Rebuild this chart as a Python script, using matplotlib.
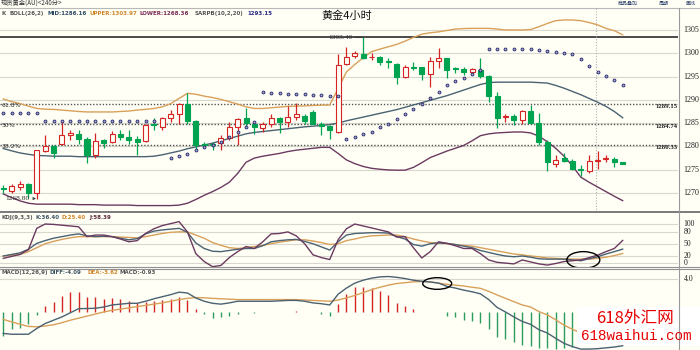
import matplotlib
matplotlib.use('Agg')
import matplotlib.pyplot as plt
from matplotlib.patches import Ellipse, Rectangle
from matplotlib.lines import Line2D

plt.rcParams['font.family'] = ['Noto Sans CJK SC', 'DejaVu Sans']

# 4小时K线 (开, 高, 低, 收)
opens = [1271.0, 1270.4, 1271.2, 1271.9, 1270.0, 1279.05, 1280.05, 1280.6, 1282.35, 1282.6,
         1281.7, 1278.1, 1281.35, 1280.9, 1282.6, 1282.1, 1281.7, 1281.1, 1284.8, 1284.2,
         1286.0, 1286.9, 1289.2, 1285.4, 1280.5, 1280.45, 1280.8, 1281.9, 1284.2, 1286.0,
         1284.9, 1283.85, 1284.9, 1286.15, 1285.3, 1286.4, 1286.6, 1287.4, 1284.8, 1284.35,
         1283.1, 1297.6, 1299.4, 1299.8, 1299.1, 1299.1, 1298.25, 1297.8, 1294.97, 1297.0,
         1296.97, 1295.5, 1298.3, 1298.9, 1296.8, 1296.6, 1296.05, 1296.4, 1295.1, 1290.9,
         1286.3, 1286.6, 1285.65, 1287.65, 1285.1, 1280.85, 1276.2, 1277.55, 1276.9, 1275.25,
         1274.75, 1276.8, 1277.2, 1277.25, 1276.55]
highs = [1271.7, 1271.9, 1272.6, 1272.2, 1279.3, 1282.4, 1280.3, 1285.65, 1283.6, 1283.6,
         1282.1, 1282.9, 1281.7, 1283.3, 1283.5, 1283.5, 1282.2, 1284.9, 1286.0, 1286.4,
         1287.8, 1289.4, 1291.5, 1285.65, 1281.0, 1281.0, 1282.4, 1285.3, 1286.0, 1288.2,
         1285.5, 1285.3, 1286.9, 1286.4, 1288.65, 1289.4, 1286.9, 1287.8, 1285.3, 1284.6,
         1299.8, 1301.4, 1300.5, 1303.4, 1300.0, 1299.5, 1299.05, 1297.98, 1297.5, 1298.2,
         1297.1, 1299.3, 1301.1, 1299.05, 1297.1, 1297.1, 1296.8, 1298.9, 1295.3, 1291.6,
         1286.9, 1286.9, 1287.8, 1288.9, 1287.1, 1281.35, 1278.1, 1278.6, 1277.4, 1276.0,
         1278.1, 1279.05, 1278.1, 1277.8, 1276.7]
lows = [1270.0, 1270.0, 1270.7, 1269.0, 1268.8, 1278.8, 1277.6, 1280.3, 1281.35, 1280.6,
        1276.5, 1277.6, 1279.6, 1280.8, 1281.35, 1280.5, 1278.1, 1281.0, 1283.5, 1283.5,
        1285.3, 1284.9, 1284.9, 1279.3, 1279.8, 1279.3, 1279.2, 1281.35, 1280.3, 1284.2,
        1282.6, 1283.1, 1284.2, 1282.9, 1284.2, 1285.65, 1284.9, 1284.8, 1282.4, 1281.5,
        1282.85, 1297.5, 1298.9, 1298.7, 1298.55, 1297.5, 1296.8, 1293.5, 1294.75, 1296.4,
        1294.25, 1292.8, 1296.9, 1294.6, 1295.7, 1295.3, 1295.3, 1294.6, 1289.6, 1283.85,
        1285.3, 1284.6, 1284.9, 1284.9, 1280.3, 1274.75, 1275.5, 1276.7, 1275.0, 1273.6,
        1274.2, 1275.25, 1276.7, 1275.5, 1276.2]
closes = [1270.9, 1271.5, 1271.9, 1270.0, 1279.2, 1280.05, 1278.6, 1282.4, 1282.8, 1281.6,
          1278.1, 1281.1, 1280.8, 1282.6, 1282.1, 1281.35, 1281.0, 1284.7, 1284.5, 1286.0,
          1286.9, 1289.2, 1285.4, 1280.3, 1280.2, 1280.4, 1281.9, 1284.2, 1285.8, 1285.1,
          1284.2, 1284.8, 1286.15, 1285.3, 1286.4, 1286.9, 1285.4, 1284.9, 1284.35, 1283.5,
          1297.5, 1299.3, 1300.1, 1298.9, 1299.2, 1298.05, 1298.15, 1294.97, 1297.1, 1296.9,
          1295.5, 1298.3, 1298.9, 1296.5, 1296.7, 1296.05, 1296.55, 1295.1, 1290.9, 1286.2,
          1286.5, 1285.65, 1287.65, 1285.1, 1280.85, 1276.6, 1277.05, 1276.9, 1275.25, 1275.0,
          1276.8, 1277.05, 1277.6, 1276.7, 1276.3]

# 布林带 BOLL(26,2)
boll_upper = [1290.2, 1289.6, 1289.2, 1288.65, 1288.15, 1288.0, 1287.95, 1287.8, 1287.65, 1287.5,
              1287.4, 1287.4, 1287.4, 1287.4, 1287.5, 1287.6, 1287.8, 1287.95, 1288.15, 1288.5,
              1289.2, 1290.3, 1291.4, 1291.2, 1290.8, 1290.5, 1290.1, 1289.6, 1289.1, 1288.5,
              1288.15, 1288.15, 1288.3, 1288.45, 1288.6, 1288.65, 1288.7, 1288.8, 1288.85, 1288.9,
              1292.4, 1296.0, 1297.6, 1299.05, 1300.35, 1300.9, 1301.4, 1301.9, 1302.6, 1303.4,
              1304.1, 1304.4, 1304.6, 1304.9, 1305.2, 1305.3, 1305.35, 1305.35, 1305.35, 1305.2,
              1305.0, 1305.0, 1305.0, 1305.1, 1305.7, 1306.4, 1307.0, 1307.15, 1307.15, 1307.0,
              1306.6, 1306.1, 1305.35, 1304.85, 1303.97]
boll_mid = [1279.55, 1279.05, 1278.6, 1278.3, 1278.05, 1278.0, 1277.9, 1277.9, 1277.9, 1277.8,
            1277.8, 1277.8, 1277.8, 1277.8, 1277.8, 1277.8, 1277.8, 1277.8, 1277.9, 1278.2,
            1278.6, 1279.0, 1279.5, 1279.9, 1280.3, 1280.7, 1281.2, 1281.7, 1282.2, 1282.7,
            1283.0, 1283.2, 1283.4, 1283.6, 1283.8, 1284.0, 1284.2, 1284.35, 1284.5, 1284.7,
            1285.0, 1285.5, 1285.9, 1286.3, 1286.7, 1287.1, 1287.5, 1287.9, 1288.4, 1288.9,
            1289.4, 1289.9, 1290.4, 1290.9, 1291.5, 1292.1, 1292.7, 1293.3, 1293.7, 1293.8,
            1293.8, 1293.8, 1293.8, 1293.8, 1293.7, 1293.6, 1293.1, 1292.5, 1291.8, 1291.1,
            1290.3, 1289.5, 1288.6, 1287.5, 1286.16]
boll_lower = [1269.8, 1269.0, 1268.3, 1267.8, 1267.6, 1267.6, 1267.6, 1267.6, 1267.6, 1267.5,
              1267.5, 1267.5, 1267.4, 1267.4, 1267.4, 1267.4, 1267.3, 1267.3, 1267.3, 1267.3,
              1267.3, 1267.4, 1267.8, 1268.6, 1269.5, 1270.3, 1271.2, 1272.3, 1274.2, 1276.6,
              1277.5, 1277.9, 1278.2, 1278.5, 1278.9, 1279.2, 1279.4, 1279.6, 1279.8, 1279.8,
              1278.5, 1277.1, 1276.3, 1275.7, 1275.3, 1275.1, 1274.95, 1274.9, 1274.9, 1275.5,
              1276.5, 1277.6, 1278.3, 1279.0, 1279.6, 1280.2, 1281.2, 1282.3, 1282.7, 1282.9,
              1283.0, 1283.1, 1283.1, 1282.9, 1282.2, 1281.0, 1279.6, 1277.9, 1275.8, 1273.4,
              1272.3, 1271.3, 1270.3, 1269.3, 1268.36]

# 抛物线 SAR
nan = float('nan')
sar = [1287.2, 1287.2, 1287.2, 1287.2, 1287.2, 1285.4, 1285.4, 1285.4, 1285.4, 1285.4,
       1285.4, 1285.4, 1285.4, 1285.4, 1285.4, 1285.4, 1285.4, 1285.4, 1285.4, nan,
       1277.6, 1277.9, 1278.3, 1279.3, 1279.9, 1280.3, 1281.0, 1282.0, 1283.1, 1284.2,
       1285.2, 1291.6, 1291.5, 1291.4, 1291.3, 1291.3, 1291.2, 1291.1, 1291.0, 1290.9,
       1290.8, 1281.7, 1282.1, 1282.6, 1283.1, 1284.1, 1284.8, 1285.9, 1286.9, 1288.0,
       1289.1, 1290.3, 1291.6, 1293.1, 1294.0, 1294.7, 1295.5, 1296.4, 1300.85, 1300.85,
       1300.85, 1300.85, 1300.85, 1300.85, 1300.7, 1300.55, 1300.3, 1300.1, 1299.8, 1298.8,
       1297.3, 1296.0, 1295.1, 1294.25, 1293.15]

# 斐波那契回调位
fib_levels = [1289.15, 1284.74, 1280.33]
fib_names = ['61.8%', '50%', '38.2%']
high_mark = 1303.40
low_mark = 1268.80

# KDJ(9,3,3)
kdj_k = [19, 23, 27, 36, 51, 58, 64, 68, 72, 75, 70, 68, 69, 68, 64, 60, 63, 75, 82, 85,
         87, 89, 79, 52, 38, 31, 30, 33, 36, 38, 38, 45, 55, 58, 60, 61, 56, 50, 42, 34,
         55, 72, 76, 77, 78, 78, 77, 68, 62, 48, 44, 50, 52, 51, 48, 44, 40, 33, 28, 23,
         19, 17, 19, 16, 12, 11, 11, 11, 9, 7, 12, 17, 24, 30, 36.4]
kdj_d = [19, 21, 23, 30, 40, 50, 56, 61, 65, 68, 68, 68, 68, 68, 67, 66, 65, 68, 72, 76,
         79, 80, 80, 72, 64, 53, 46, 40, 38, 40, 43, 46, 50, 54, 57, 60, 60, 57, 53, 48,
         50, 58, 62, 67, 70, 71, 72, 72, 68, 62, 57, 53, 52, 50, 48, 46, 44, 40, 36, 32,
         28, 24, 22, 19, 17, 14, 13, 12, 11, 11, 11, 13, 16, 20, 25.4]
kdj_j = [13, 18, 23, 35, 89, 100, 99, 97, 95, 93, 68, 72, 72, 68, 62, 55, 58, 76, 88, 96,
         101, 106, 80, 25, 5, -8, -5, 15, 30, 43, 38, 55, 75, 76, 80, 70, 50, 22, 15, 10,
         60, 88, 100, 95, 90, 85, 80, 67, 68, 40, 14, 30, 55, 51, 45, 38, 38, 25, 9, 3,
         1, -1, 9, 4, -1, -4, 0, 5, 7, 9, 15, 21, 30, 38, 58.4]
kdj_ticks = [100, 80, 50, 20, 0]

# MACD(12,26,9)
diff = [-2.6, -2.7, -2.7, -2.7, -2.0, -1.4, -1.0, -0.6, -0.1, 0.4, 0.42, 0.45, 0.6, 0.85, 0.95,
        1.05, 1.05, 1.3, 1.6, 1.85, 2.1, 2.4, 2.3, 1.7, 1.3, 1.05, 0.95, 1.1, 1.3, 1.3,
        1.3, 1.3, 1.3, 1.35, 1.4, 1.4, 1.3, 1.1, 1.0, 0.85, 2.15, 2.9, 3.5, 3.85, 4.1,
        4.25, 4.3, 4.2, 4.05, 3.85, 3.72, 3.63, 3.5, 3.1, 2.9, 2.65, 2.45, 2.2, 1.5, 0.55,
        0.0, -0.6, -1.15, -1.5, -2.15, -2.55, -3.2, -3.8, -4.2, -4.5, -4.5, -4.45, -4.35, -4.25, -4.09]
dea = [-0.9, -1.2, -1.5, -1.75, -1.8, -1.7, -1.55, -1.3, -1.0, -0.75, -0.5, -0.25, 0.0, 0.2, 0.35,
       0.5, 0.65, 0.8, 0.95, 1.1, 1.3, 1.5, 1.65, 1.75, 1.72, 1.65, 1.6, 1.55, 1.5, 1.5,
       1.5, 1.5, 1.5, 1.5, 1.5, 1.5, 1.45, 1.4, 1.35, 1.3, 1.45, 1.7, 2.0, 2.35, 2.7,
       3.0, 3.25, 3.45, 3.55, 3.65, 3.7, 3.65, 3.5, 3.35, 3.25, 3.15, 3.0, 2.87, 2.5, 2.06,
       1.65, 1.25, 0.85, 0.6, 0.05, -0.36, -0.95, -1.6, -2.1, -2.55, -2.9, -3.15, -3.35, -3.5, -3.62]
macd_hist = [-2.9, -2.1, -1.9, -1.5, -0.4, 0.7, 1.2, 1.9, 2.4, 2.4, 1.8, 1.8, 1.6, 1.7, 1.6,
             1.3, 1.1, 1.2, 1.3, 1.5, 1.6, 1.8, 1.4, 0.3, -0.3, -0.7, -0.65, -0.5, -0.25, -0.02,
             -0.1, -0.05, 0.05, 0.05, 0.05, 0.15, 0.05, -0.05, -0.25, -0.5, 0.95, 2.2, 3.0, 3.0, 2.9,
             2.5, 2.0, 1.05, 0.7, 0.4, 0.05, 0.02, 0.0, -0.5, -0.65, -0.95, -1.15, -1.35, -2.05, -3.0,
             -3.3, -3.7, -4.0, -4.1, -4.4, -4.4, -4.5, -4.4, -4.2, -3.6, -3.0, -2.4, -1.8, -1.3, -0.93]

# 颜色
BG = '#fffff6'
GRID = '#d8d8ce'
RED = '#d42424'
GREEN = '#00a350'
C_UP = '#d9a05a'
C_MID = '#4b6272'
C_LOW = '#6b3a60'

W, H = 700, 350
fig = plt.figure(figsize=(7, 3.5), dpi=100, facecolor=BG)


def panel(y0, y1):
    # 按像素位置放置子图
    ax = fig.add_axes([0, 1 - y1 / H, 678 / W, (y1 - y0) / H])
    ax.set_facecolor(BG)
    ax.set_xlim(-0.394, 80.61)
    ax.set_xticks([])
    ax.set_yticks([])
    for s in ax.spines.values():
        s.set_visible(False)
    return ax


def ftext(x, y, s, **kw):
    fig.text(x / W, 1 - y / H, s, **kw)


ax = panel(8, 212)
ax_kdj = panel(212, 268)
ax_macd = panel(268, 350)

n = len(opens)
xs = list(range(n))

# ---- 主图 ----
ax.set_ylim(1265.92, 1309.72)
for p in [1270, 1275, 1280, 1285, 1290, 1295, 1300, 1305]:
    ax.axhline(p, color=GRID, lw=0.8, zorder=0)
    ax.text(1.008, p, str(p), transform=ax.get_yaxis_transform(), va='center', ha='left',
            fontsize=5.8, family='Liberation Serif', color='#222222')

ax.axhline(high_mark, color='#4a4a4a', lw=1.4, zorder=1)
for lv, nm in zip(fib_levels, fib_names):
    ax.axhline(lv, color='#555555', lw=1.0, ls=(0, (1, 1.3)), zorder=1)
    ax.annotate(nm, (0.003, lv), xycoords=('axes fraction', 'data'), xytext=(0, -1.5),
                textcoords='offset pixels', va='center', ha='left', fontsize=4.4,
                family='DejaVu Sans', color='#333333')
    ax.annotate('%.2f' % lv, (1.0, lv), xycoords=('axes fraction', 'data'), xytext=(0, -2.5),
                textcoords='offset pixels', va='center', ha='right', fontsize=4.9,
                family='Liberation Serif', weight='bold', color='#222222')

ax.axvline(70.8, color='#b0b0b0', lw=0.8, ls=(0, (1, 1.5)), zorder=1)

ax.plot(xs, boll_upper, color=C_UP, lw=1.0, zorder=2)
ax.plot(xs, boll_mid, color=C_MID, lw=1.0, zorder=2)
ax.plot(xs, boll_lower, color=C_LOW, lw=1.0, zorder=2)

for i in range(n):
    o, h, l, c = opens[i], highs[i], lows[i], closes[i]
    col = RED if c >= o else GREEN
    ax.vlines(i, l, h, color=col, lw=0.9, zorder=3)
    face = BG if c >= o else GREEN
    ax.add_patch(Rectangle((i - 0.3, min(o, c)), 0.6, abs(c - o), facecolor=face,
                           edgecolor=col, lw=0.8, zorder=4))

ax.plot(xs, sar, ls='none', marker='o', ms=2.1, mfc='#a0a0cc', mec='#26266a', mew=0.6, zorder=5)

ax.annotate('1303.40', xy=(43, high_mark), xytext=(41.7, high_mark), ha='right', va='center',
            fontsize=5.4, family='Liberation Serif', color='#333333',
            arrowprops=dict(arrowstyle='-', color='#333333', lw=0.6, shrinkA=0, shrinkB=0))
ax.annotate('1268.80', xy=(3.9, low_mark), xytext=(3.2, low_mark), ha='right', va='center',
            fontsize=5.4, family='Liberation Serif', color='#333333',
            arrowprops=dict(arrowstyle='->', color='#333333', lw=0.6, shrinkA=0, shrinkB=0,
                            mutation_scale=4))

# ---- KDJ ----
ax_kdj.set_ylim(-11.4, 130.4)
for t in kdj_ticks:
    ax_kdj.axhline(t, color=GRID, lw=0.8, zorder=0)
    ax_kdj.text(1.008, t, str(t), transform=ax_kdj.get_yaxis_transform(), va='center',
                ha='left', fontsize=5.6, family='Liberation Serif', color='#222222')
ax_kdj.plot(xs, kdj_d, color=C_UP, lw=1.0)
ax_kdj.plot(xs, kdj_k, color=C_MID, lw=1.0)
ax_kdj.plot(xs, kdj_j, color=C_LOW, lw=1.0)
ax_kdj.add_patch(Ellipse((69.3, 8.9), 3.94, 42.3, fill=False, ec='black', lw=1.0, zorder=5))

# ---- MACD ----
ax_macd.set_ylim(-4.61, 5.33)
ax_macd.axhline(4.0, color=GRID, lw=0.8, zorder=0)
ax_macd.text(1.008, 4.0, '4.0', transform=ax_macd.get_yaxis_transform(), va='center',
             ha='left', fontsize=5.6, family='Liberation Serif', color='#222222')
bar_cols = [RED if v >= 0 else '#2a9d5c' for v in macd_hist]
ax_macd.vlines(xs, 0, macd_hist, colors=bar_cols, lw=1.0, zorder=2)
ax_macd.plot(xs, dea, color=C_UP, lw=1.0, zorder=3)
ax_macd.plot(xs, diff, color=C_MID, lw=1.0, zorder=3)
ax_macd.add_patch(Ellipse((51.84, 3.45), 3.46, 1.41, fill=False, ec='black', lw=1.0, zorder=5))

# ---- 分隔线 ----
for yy, lw, c in [(7.5, 0.8, '#b8b8b8'), (211.5, 1.3, '#707070'), (266.5, 0.8, '#909090'),
                  (269, 0.8, '#909090')]:
    fig.add_artist(Line2D([0, 1], [1 - yy / H] * 2, color=c, lw=lw))
fig.add_artist(Line2D([678.5 / W] * 2, [0, 1 - 7.5 / H], color='#9a9a9a', lw=0.8))

# ---- 文字 ----
ftext(1, 3.2, '现货黄金(AU)<240分>', fontsize=4.5, va='center', color='#333333')
for s, x in [('商品叠加', 628), ('周期', 664), ('画线', 691)]:
    ftext(x, 3.2, s, fontsize=3.6, va='center', ha='center', color='#2a3f6a')
ftext(347, 15.5, '黄金4小时', fontsize=8, va='center', ha='center', color='#111111')

hdr = dict(fontsize=4.0, va='center', family='DejaVu Sans', weight='bold')
for s, c, x in [('K', '#555555', 1), ('BOLL(26,2)', '#555555', 9), ('MID:1286.16', '#2e4a64', 47),
                ('UPPER:1303.97', '#d0862a', 89), ('LOWER:1268.36', '#7a2a55', 140),
                ('SARPB(10,2,20)', '#555555', 195), ('1293.15', '#2a2a8a', 247)]:
    ftext(x, 13.2, s, color=c, **hdr)
for s, c, x in [('KDJ(9,3,3)', '#555555', 1), ('K:36.40', '#3d5566', 35),
                ('D:25.40', '#d0862a', 62), ('J:58.39', '#5a2a40', 89)]:
    ftext(x, 217.8, s, color=c, **hdr)
for s, c, x in [('MACD(12,26,9)', '#555555', 1), ('DIFF:-4.09', '#3d5566', 50),
                ('DEA:-3.62', '#d0862a', 87), ('MACD:-0.93', '#555555', 119)]:
    ftext(x, 272.8, s, color=c, **hdr)

# 水印
fig.add_artist(Rectangle((577 / W, 1 - 345 / H), 123 / W, 38 / H, transform=fig.transFigure,
                         facecolor='white', edgecolor='none'))
ftext(635, 319, '618外汇网', fontsize=12, va='center', ha='center', color='#e60000')
ftext(636, 336.5, '618waihui.com', fontsize=10.3, va='center', ha='center', color='#e60000',
      family='Liberation Mono')

plt.savefig('out.png', dpi=100, facecolor=BG)
